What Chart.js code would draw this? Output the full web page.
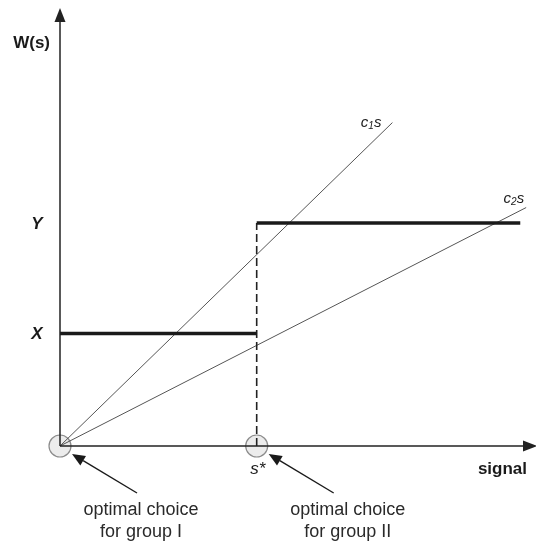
<!DOCTYPE html>
<html lang="en">
<head>
<meta charset="UTF-8">
<title>W(s) signal</title>
<script src="https://cdn.jsdelivr.net/npm/chart.js@4.4.0/dist/chart.umd.min.js"></script>
<style>
  body { margin: 0; background: #fff; }
  #chart { display: block; }
</style>
</head>
<body>
<canvas id="chart" width="536" height="542"></canvas>
<script>
// values (s* taken as 1 unit on the signal axis)
const lineNames = [['c', '1', 's'], ['c', '2', 's']];
const slopes = [0.97, 0.51];
const lineEnds = [1.69, 2.37];
const levelNames = ['X', 'Y'];
const levels = [0.57, 1.13];
const stepStarts = [0, 1];
const stepEnds = [1, 2.34];
const sStar = 1;
const sStarLabel = 's*';
const choicePoints = [0, sStar];
const choiceLabels = [['optimal choice', 'for group I'], ['optimal choice', 'for group II']];
const xTitle = 'signal';
const yTitle = 'W(s)';
const xMax = 2.42;
const yMax = 2.21;

const FONT = '"Liberation Sans", Arial, Helvetica, sans-serif';

const datasets = [];
// optimal choice circles (drawn first, under everything)
datasets.push({
    data: choicePoints.map(s => ({ x: s, y: 0 })),
    showLine: false,
    pointRadius: 11,
    pointBackgroundColor: '#ececec',
    pointBorderColor: '#8c8c8c',
    pointBorderWidth: 1.2,
    order: 10,
    clip: false
});
// c1 s and c2 s rays
slopes.forEach((c, i) => {
    datasets.push({
        data: [{ x: 0, y: 0 }, { x: lineEnds[i], y: c * lineEnds[i] }],
        showLine: true,
        borderColor: '#555',
        borderWidth: 1,
        pointRadius: 0,
        order: 5,
        clip: false
    });
});
// step function W(s)
levels.forEach((v, i) => {
    datasets.push({
        data: [{ x: stepStarts[i], y: v }, { x: stepEnds[i], y: v }],
        showLine: true,
        borderColor: '#1a1a1a',
        borderWidth: 3.5,
        borderCapStyle: 'butt',
        pointRadius: 0,
        order: 1,
        clip: false
    });
});
// dashed jump at s*
datasets.push({
    data: [{ x: sStar, y: 0 }, { x: sStar, y: levels[1] }],
    showLine: true,
    borderColor: '#222',
    borderWidth: 1.6,
    borderDash: [8, 4],
    pointRadius: 0,
    order: 2,
    clip: false
});

function arrow(ctx, x1, y1, x2, y2, head, halfW) {
    const a = Math.atan2(y2 - y1, x2 - x1);
    const bx = x2 - head * Math.cos(a), by = y2 - head * Math.sin(a);
    ctx.beginPath();
    ctx.moveTo(x1, y1);
    ctx.lineTo(bx, by);
    ctx.stroke();
    ctx.beginPath();
    ctx.moveTo(x2, y2);
    ctx.lineTo(bx + halfW * Math.sin(a), by - halfW * Math.cos(a));
    ctx.lineTo(bx - halfW * Math.sin(a), by + halfW * Math.cos(a));
    ctx.closePath();
    ctx.fill();
}

function subLabel(ctx, parts, right, y) {
    const big = 'italic 15px ' + FONT, small = 'italic 10px ' + FONT;
    ctx.font = big; const w0 = ctx.measureText(parts[0]).width, w2 = ctx.measureText(parts[2]).width;
    ctx.font = small; const w1 = ctx.measureText(parts[1]).width;
    let x = right - (w0 + w1 + w2);
    ctx.textAlign = 'left';
    ctx.font = big; ctx.fillText(parts[0], x, y); x += w0;
    ctx.font = small; ctx.fillText(parts[1], x, y + 4); x += w1;
    ctx.font = big; ctx.fillText(parts[2], x, y);
}

const decorations = {
    id: 'decorations',
    afterDatasetsDraw(chart) {
        const ctx = chart.ctx;
        const xs = chart.scales.x, ys = chart.scales.y;
        const ox = xs.getPixelForValue(0), oy = ys.getPixelForValue(0);
        const area = chart.chartArea;
        ctx.save();
        ctx.strokeStyle = '#222';
        ctx.fillStyle = '#222';
        ctx.lineWidth = 1.5;
        // axes with arrow heads
        arrow(ctx, ox, oy, ox, area.top - 2, 14, 5.5);
        arrow(ctx, ox, oy, area.right + 1, oy, 14, 5.5);

        ctx.textBaseline = 'middle';
        ctx.fillStyle = '#1a1a1a';
        // axis titles
        ctx.font = 'bold 17px ' + FONT;
        ctx.textAlign = 'right';
        ctx.fillText(yTitle, ox - 10, 43);
        ctx.fillText(xTitle, area.right - 9, oy + 23);
        // level labels
        ctx.font = 'bold italic 17px ' + FONT;
        ctx.textAlign = 'center';
        levels.forEach((v, i) => ctx.fillText(levelNames[i], 37, ys.getPixelForValue(v) + 1));
        // s*
        ctx.font = 'italic 17px ' + FONT;
        ctx.fillText(sStarLabel, xs.getPixelForValue(sStar) + 1, oy + 23);
        // ray labels
        slopes.forEach((c, i) => {
            const ex = xs.getPixelForValue(lineEnds[i]), ey = ys.getPixelForValue(c * lineEnds[i]);
            if (i === 0) subLabel(ctx, lineNames[i], ex - 11, ey);
            else subLabel(ctx, lineNames[i], ex - 2, ey - 9);
        });
        // annotations
        ctx.strokeStyle = '#1a1a1a';
        ctx.lineWidth = 1.4;
        choicePoints.forEach((s, i) => {
            const px = xs.getPixelForValue(s);
            ctx.fillStyle = '#1a1a1a';
            arrow(ctx, px + 77, oy + 47, px + 12, oy + 8, 13, 5.5);
            ctx.fillStyle = '#2a2a2a';
            ctx.font = '18px ' + FONT;
            ctx.textAlign = 'center';
            choiceLabels[i].forEach((t, k) => ctx.fillText(t, px + 81 + (i ? 10 : 0), oy + 64 + k * 22));
        });
        ctx.restore();
    }
};

new Chart(document.getElementById('chart'), {
    type: 'scatter',
    data: { datasets: datasets },
    options: {
        responsive: false,
        animation: false,
        layout: { autoPadding: false, padding: { left: 60, top: 10, right: 0, bottom: 96 } },
        plugins: { legend: { display: false }, tooltip: { enabled: false } },
        scales: {
            x: { type: 'linear', min: 0, max: xMax, display: false },
            y: { type: 'linear', min: 0, max: yMax, display: false }
        }
    },
    plugins: [decorations]
});
</script>
</body>
</html>
